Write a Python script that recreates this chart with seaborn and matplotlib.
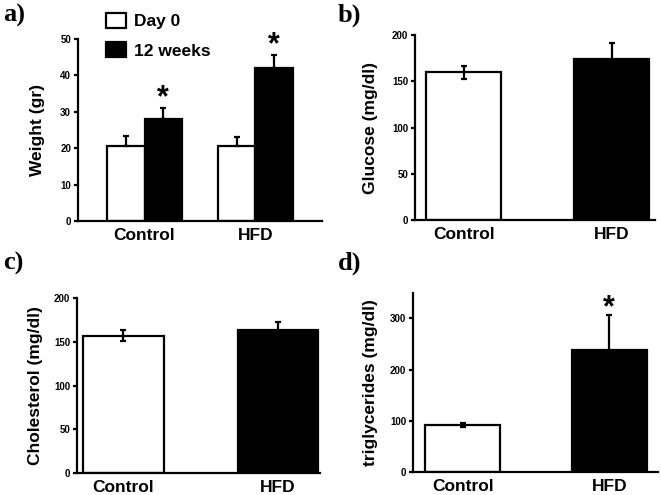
import numpy as np
import pandas as pd
import matplotlib
matplotlib.use('Agg')
import matplotlib.pyplot as plt
import seaborn as sns

# valori
groups = ['Control', 'HFD']
timepoints = ['Day 0', '12 weeks']
weight_day0 = [20.7, 20.7]
weight_day0_err = [2.8, 2.3]
weight_12w = [28.0, 42.0]
weight_12w_err = [3.2, 3.7]
glucose = [160, 174]
glucose_err = [7, 17]
cholesterol = [157, 163]
cholesterol_err = [6.5, 10]
triglycerides = [91, 238]
triglycerides_err = [4, 68]

sns.set_theme(style='ticks')
plt.rcParams['font.family'] = ['Liberation Sans', 'DejaVu Sans']
plt.rcParams['font.weight'] = 'bold'
plt.rcParams['axes.labelweight'] = 'bold'
plt.rcParams['text.color'] = 'black'
plt.rcParams['axes.labelcolor'] = 'black'
plt.rcParams['xtick.color'] = 'black'
plt.rcParams['ytick.color'] = 'black'

fig = plt.figure(figsize=(6.61, 4.95), dpi=100)
ax_a = fig.add_axes([0.118, 0.5535, 0.369, 0.3675])
ax_b = fig.add_axes([0.628, 0.5556, 0.363, 0.3734])
ax_c = fig.add_axes([0.1165, 0.0444, 0.3675, 0.3536])
ax_d = fig.add_axes([0.625, 0.0465, 0.370, 0.3622])

lw = 1.6


def style_axis(ax, ylabel, ylim, yticks, xlim, labelpad=10):
    ax.set_ylim(*ylim)
    ax.set_yticks(yticks)
    ax.set_xlim(*xlim)
    ax.set_xlabel('')
    ax.set_ylabel(ylabel, fontsize=12.5, fontweight='bold', labelpad=labelpad, color='black')
    for s in ['top', 'right']:
        ax.spines[s].set_visible(False)
    for s in ['left', 'bottom']:
        ax.spines[s].set_linewidth(lw)
        ax.spines[s].set_color('black')
    ax.tick_params(axis='y', length=3, width=lw, labelsize=7, pad=2, colors='black')
    ax.tick_params(axis='x', length=0, labelsize=12.5, pad=5, colors='black')
    for t in ax.get_yticklabels() + ax.get_xticklabels():
        t.set_fontweight('bold')


# a) peso
df_w = pd.DataFrame({
    'group': groups * 2,
    'time': [timepoints[0]] * 2 + [timepoints[1]] * 2,
    'value': weight_day0 + weight_12w,
})
sns.barplot(data=df_w, x='group', y='value', hue='time', palette=['white', 'black'],
            edgecolor='black', linewidth=lw, errorbar=None, width=0.67, ax=ax_a)
off = 0.67 / 4
xpos = np.arange(len(groups))
ax_a.errorbar(xpos - off, weight_day0, yerr=[np.zeros(2), weight_day0_err], fmt='none',
              ecolor='black', elinewidth=lw, capsize=2.5, capthick=lw, zorder=5)
ax_a.errorbar(xpos + off, weight_12w, yerr=[np.zeros(2), weight_12w_err], fmt='none',
              ecolor='black', elinewidth=lw, capsize=2.5, capthick=lw, zorder=5)
for i in range(len(groups)):
    ax_a.text(xpos[i] + off, weight_12w[i] + weight_12w_err[i] - 1.5, '*', ha='center',
              va='bottom', fontsize=22, fontweight='bold', color='black')
style_axis(ax_a, 'Weight (gr)', (0, 50), [0, 10, 20, 30, 40, 50], (-0.6, 1.6), labelpad=11)
handles, labels = ax_a.get_legend_handles_labels()
ax_a.legend(handles, labels, loc='upper left', bbox_to_anchor=(0.147, 0.992),
            bbox_transform=fig.transFigure, frameon=False,
            prop={'weight': 'bold', 'size': 12.5}, handlelength=1.15, handleheight=1.0,
            handletextpad=0.45, labelspacing=0.72, borderpad=0)


def two_bar(ax, values, errs, ylabel, ylim, yticks, xlim, width, star=False, labelpad=10):
    sns.barplot(x=groups, y=values, hue=groups, palette=['white', 'black'], legend=False,
                edgecolor='black', linewidth=lw, errorbar=None, width=width, ax=ax)
    ax.errorbar(xpos, values, yerr=errs, fmt='none', ecolor='black', elinewidth=lw,
                capsize=2.5, capthick=lw, zorder=5)
    if star:
        ax.text(xpos[1], values[1] + errs[1] - 16, '*', ha='center', va='bottom',
                fontsize=22, fontweight='bold', color='black')
    style_axis(ax, ylabel, ylim, yticks, xlim, labelpad=labelpad)


two_bar(ax_b, glucose, glucose_err, 'Glucose (mg/dl)', (0, 200), [0, 50, 100, 150, 200],
        (-0.33, 1.294), 0.507, labelpad=10)
two_bar(ax_c, cholesterol, cholesterol_err, 'Cholesterol (mg/dl)', (0, 200),
        [0, 50, 100, 150, 200], (-0.30, 1.27), 0.52, labelpad=7.5)
two_bar(ax_d, triglycerides, triglycerides_err, 'triglycerides (mg/dl)', (0, 350),
        [0, 100, 200, 300], (-0.337, 1.33), 0.51, star=True, labelpad=8.5)

# lettere dei pannelli
for lab, x, y in [('a)', 0.004, 0.992), ('b)', 0.511, 0.992), ('c)', 0.004, 0.492), ('d)', 0.511, 0.492)]:
    fig.text(x, y, lab, ha='left', va='top', fontsize=19, fontweight='bold',
             family=['Liberation Serif', 'DejaVu Serif'], color='black')

plt.savefig('out.png', dpi=100)
